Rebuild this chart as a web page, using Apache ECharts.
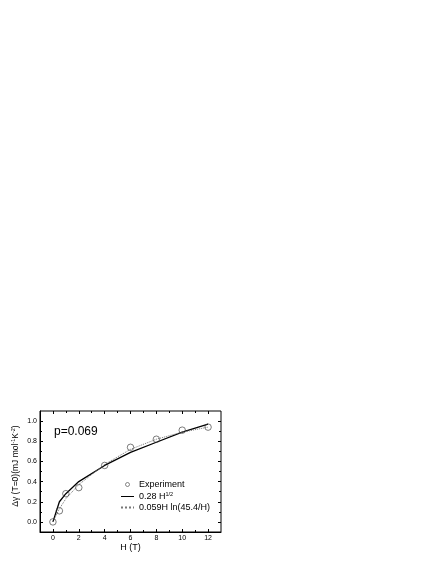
<!DOCTYPE html>
<html>
<head>
<meta charset="utf-8">
<title>gamma vs H</title>
<script src="https://cdn.jsdelivr.net/npm/echarts@6/dist/echarts.min.js"></script>
<style>
  html, body { margin: 0; padding: 0; background: #fff; }
  #main { width: 436px; height: 564px; }
</style>
</head>
<body>
<div id="main"></div>
<script>
// field values (T)
var fieldH = [0, 0.5, 1, 2, 4, 6, 8, 10, 12];
// measured points
var experiment = [0.00, 0.11, 0.28, 0.34, 0.56, 0.74, 0.82, 0.91, 0.94];
// fit curves, same H points
var fitSqrt = [0.00, 0.20, 0.28, 0.40, 0.56, 0.69, 0.79, 0.89, 0.97];
var fitLog = [0.00, 0.13, 0.23, 0.37, 0.57, 0.72, 0.82, 0.89, 0.94];

var xMajor = [0, 2, 4, 6, 8, 10, 12];
var xMinor = [1, 3, 5, 7, 9, 11];
var yMajor = [0, 0.2, 0.4, 0.6, 0.8, 1.0];
var yMinor = [0.1, 0.3, 0.5, 0.7, 0.9];

var font = 'Arial, "Liberation Sans", sans-serif';

function pairs(ys) {
  return fieldH.map(function (h, i) { return [h, ys[i]]; });
}

// one axis = a set of ticks on one side of the frame
function xAx(pos, ticks, len, labels, extra) {
  var a = {
    type: 'value', position: pos, min: -1, max: 13,
    gridIndex: 0,
    axisLine: { show: labels, onZero: false, lineStyle: { color: '#000', width: 1 } },
    axisTick: { show: true, inside: true, length: len, customValues: ticks,
                lineStyle: { color: '#000', width: 1 } },
    axisLabel: { show: labels, customValues: ticks, margin: 3, fontSize: 7,
                 color: '#000', fontFamily: font },
    splitLine: { show: false }
  };
  return Object.assign(a, extra || {});
}
function yAx(pos, ticks, len, labels, extra) {
  var a = {
    type: 'value', position: pos, min: -0.1, max: 1.1,
    gridIndex: 0,
    axisLine: { show: labels, onZero: false, lineStyle: { color: '#000', width: 1 } },
    axisTick: { show: true, inside: true, length: len, customValues: ticks,
                lineStyle: { color: '#000', width: 1 } },
    axisLabel: { show: labels, customValues: ticks, margin: 3, fontSize: 7,
                 color: '#000', fontFamily: font,
                 formatter: function (v) { return v.toFixed(1); } },
    splitLine: { show: false }
  };
  return Object.assign(a, extra || {});
}

var myChart = echarts.init(document.getElementById('main'));

var option = {
  backgroundColor: '#fff',
  animation: false,
  title: {
    text: 'p=0.069', left: 54, top: 426, padding: 0,
    textStyle: { fontSize: 12, fontWeight: 'normal', color: '#000', fontFamily: font }
  },
  grid: { left: 40, top: 411, width: 181, height: 121, show: true,
          borderColor: '#000', borderWidth: 1, backgroundColor: 'transparent' },
  legend: {
    orient: 'vertical', left: 120, top: 480, padding: 0,
    itemWidth: 13, itemHeight: 4, itemGap: 2,
    data: [
      { name: 'Experiment', itemStyle: { color: '#fff', borderColor: '#444', borderWidth: 0.8 } },
      { name: 'sqrt', itemStyle: { opacity: 0 }, lineStyle: { width: 1 } },
      { name: 'log', itemStyle: { opacity: 0 } }
    ],
    formatter: function (name) {
      if (name === 'Experiment') return '{n|Experiment}';
      if (name === 'sqrt') return '{n|0.28 H}{s|1/2}';
      return '{n|0.059H ln(45.4/H)}';
    },
    textStyle: {
      color: '#000', fontFamily: font, fontSize: 9,
      rich: {
        n: { fontSize: 9, lineHeight: 11, color: '#000', fontFamily: font },
        s: { fontSize: 5.5, lineHeight: 11, verticalAlign: 'top', color: '#000', fontFamily: font }
      }
    }
  },
  xAxis: [
    xAx('bottom', xMajor, 3, true, {
      name: 'H (T)', nameLocation: 'middle', nameGap: 11,
      nameTextStyle: { fontSize: 9, color: '#000', fontFamily: font }
    }),
    xAx('bottom', xMinor, 2, false),
    xAx('top', xMajor, 3, false),
    xAx('top', xMinor, 2, false)
  ],
  yAxis: [
    yAx('left', yMajor, 3, true, {
      name: '{n|Δγ (T=0)(mJ mol}{s|-1}{n|K}{s|-2}{n|)}',
      nameLocation: 'middle', nameGap: 19,
      nameTextStyle: {
        color: '#000', fontFamily: font, fontSize: 8.5, padding: [0, 0, 0, 11],
        rich: {
          n: { fontSize: 8.5, lineHeight: 11, color: '#000', fontFamily: font },
          s: { fontSize: 5.5, lineHeight: 11, verticalAlign: 'top', color: '#000', fontFamily: font }
        }
      }
    }),
    yAx('left', yMinor, 2, false),
    yAx('right', yMajor, 3, false),
    yAx('right', yMinor, 2, false)
  ],
  series: [
    {
      name: 'Experiment', type: 'scatter', data: pairs(experiment),
      symbol: 'circle', symbolSize: 6.5, z: 5,
      itemStyle: { color: 'rgba(255,255,255,0)', borderColor: '#333', borderWidth: 0.8 }
    },
    {
      name: 'sqrt', type: 'line', data: pairs(fitSqrt),
      symbol: 'none', smooth: false,
      lineStyle: { color: '#000', width: 1.3, type: 'solid' },
      itemStyle: { color: '#000' }
    },
    {
      name: 'log', type: 'line', data: pairs(fitLog),
      symbol: 'none', smooth: false,
      lineStyle: { color: '#777', width: 1, type: 'dotted' },
      itemStyle: { color: '#777' }
    }
  ]
};
myChart.setOption(option);
</script>
</body>
</html>
